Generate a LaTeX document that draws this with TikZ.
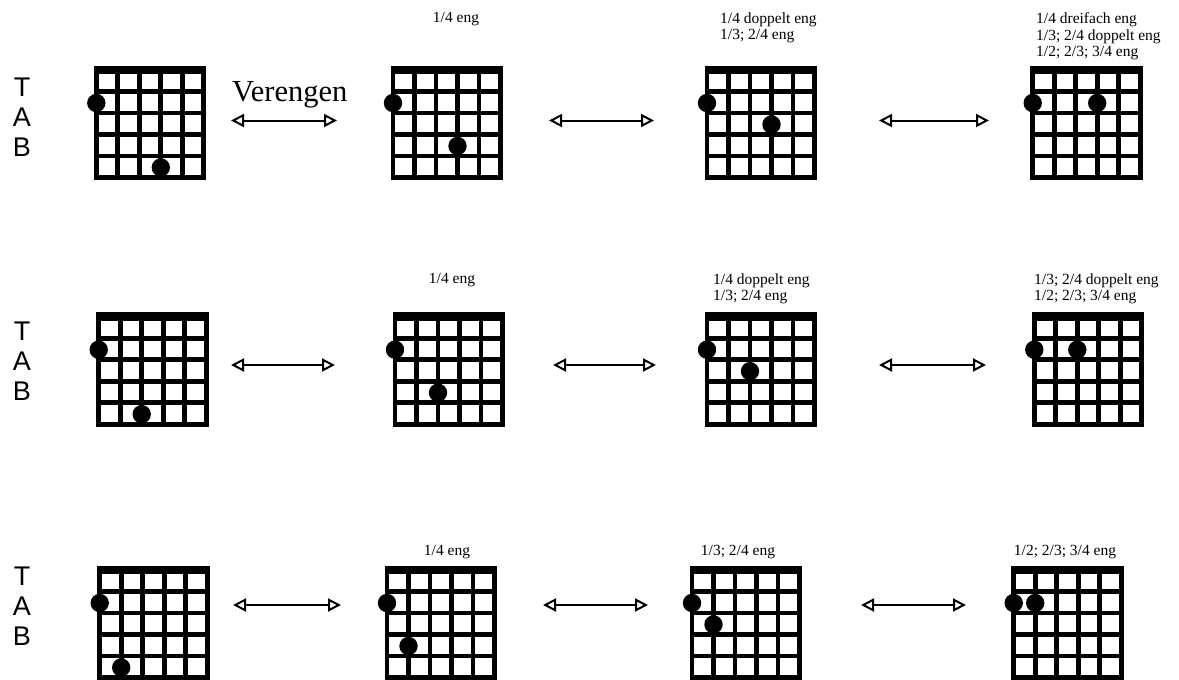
\documentclass[tikz,border=0pt]{standalone}
\usepackage{fontspec}
\setmainfont{Liberation Serif}
\newfontfamily\tabfont{Liberation Sans}
\usetikzlibrary{arrows.meta}

\tikzset{
  saite/.style={line width=4.8pt, line cap=rect},
  sattel/.style={line width=8.5pt},
  pfeil/.style={line width=2pt,
    {Triangle[open,length=13pt,width=13pt]}-{Triangle[open,length=13pt,width=13pt]}},
  hinweis/.style={inner sep=0pt, font=\fontsize{15.5}{16.5}\selectfont, align=left},
  tab/.style={inner sep=0pt, font=\tabfont\fontsize{27}{30}\selectfont, align=center},
  pics/griffbrett/.style 2 args={code={
    \foreach \i in {0,...,5}
      \draw[saite] (21.5*\i,0) -- (21.5*\i,107.5);
    \foreach \j in {1,...,5}
      \draw[saite] (0,21.5*\j) -- (107.5,21.5*\j);
    \draw[sattel] (-2.4,0) -- (109.9,0);
    \fill (0,33) circle[radius=9.2pt];
    \fill (21.5*#1,21.5*#2-10) circle[radius=9.2pt];
  }}
}

\begin{document}
\begin{tikzpicture}[x=1pt, y=-1pt]
  \useasboundingbox (0,0) rectangle (1179,680);

  \node[tab, anchor=north] (tab1) at (22,78) {T\\A\\B};
  \node[tab, anchor=north] (tab2) at (22,322) {T\\A\\B};
  \node[tab, anchor=north] (tab3) at (22,567) {T\\A\\B};

  \foreach \x/\y/\s/\f in {96.3/70/3/5, 393/70/3/4, 707/70/3/3, 1032.7/70/3/2,
                           98.7/316.7/2/5, 395/316.7/2/4, 707/316.7/2/3, 1034.3/316.7/2/2,
                           99.7/570/1/5, 387/570/1/4, 692/570/1/3, 1013.7/570/1/2}
    \pic at (\x,\y) {griffbrett={\s}{\f}};

  \node[anchor=base west, inner sep=0pt, font=\fontsize{30.5}{32}\selectfont] (ver) at (232,101.7) {Verengen};

  \node[hinweis, anchor=north] (l12) at (456,12.5) {1/4 eng};
  \node[hinweis, anchor=north west] (l13) at (720,12.5) {1/4 doppelt eng\\1/3; 2/4 eng};
  \node[hinweis, anchor=north west] (l14) at (1036,12.5) {1/4 dreifach eng\\1/3; 2/4 doppelt eng\\1/2; 2/3; 3/4 eng};
  \node[hinweis, anchor=north] (l22) at (452,273.5) {1/4 eng};
  \node[hinweis, anchor=north west] (l23) at (713,273.5) {1/4 doppelt eng\\1/3; 2/4 eng};
  \node[hinweis, anchor=north west] (l24) at (1034,273.5) {1/3; 2/4 doppelt eng\\1/2; 2/3; 3/4 eng};
  \node[hinweis, anchor=north] (l32) at (447,545) {1/4 eng};
  \node[hinweis, anchor=north] (l33) at (738,545) {1/3; 2/4 eng};
  \node[hinweis, anchor=north] (l34) at (1065,545) {1/2; 2/3; 3/4 eng};

  \coordinate (a11) at (231,120.5);  \coordinate (b11) at (337,120.5);
  \coordinate (a12) at (549,120.5);  \coordinate (b12) at (654,120.5);
  \coordinate (a13) at (879,120.5);  \coordinate (b13) at (989,120.5);
  \coordinate (a21) at (231,365);    \coordinate (b21) at (335,365);
  \coordinate (a22) at (553,365);    \coordinate (b22) at (656,365);
  \coordinate (a23) at (879,365);    \coordinate (b23) at (986,365);
  \coordinate (a31) at (233,605);    \coordinate (b31) at (341,605);
  \coordinate (a32) at (543,605);    \coordinate (b32) at (648,605);
  \coordinate (a33) at (861,605);    \coordinate (b33) at (966,605);
  \foreach \n in {11,12,13,21,22,23,31,32,33}
    \draw[pfeil] (a\n) -- (b\n);
\end{tikzpicture}
\end{document}
